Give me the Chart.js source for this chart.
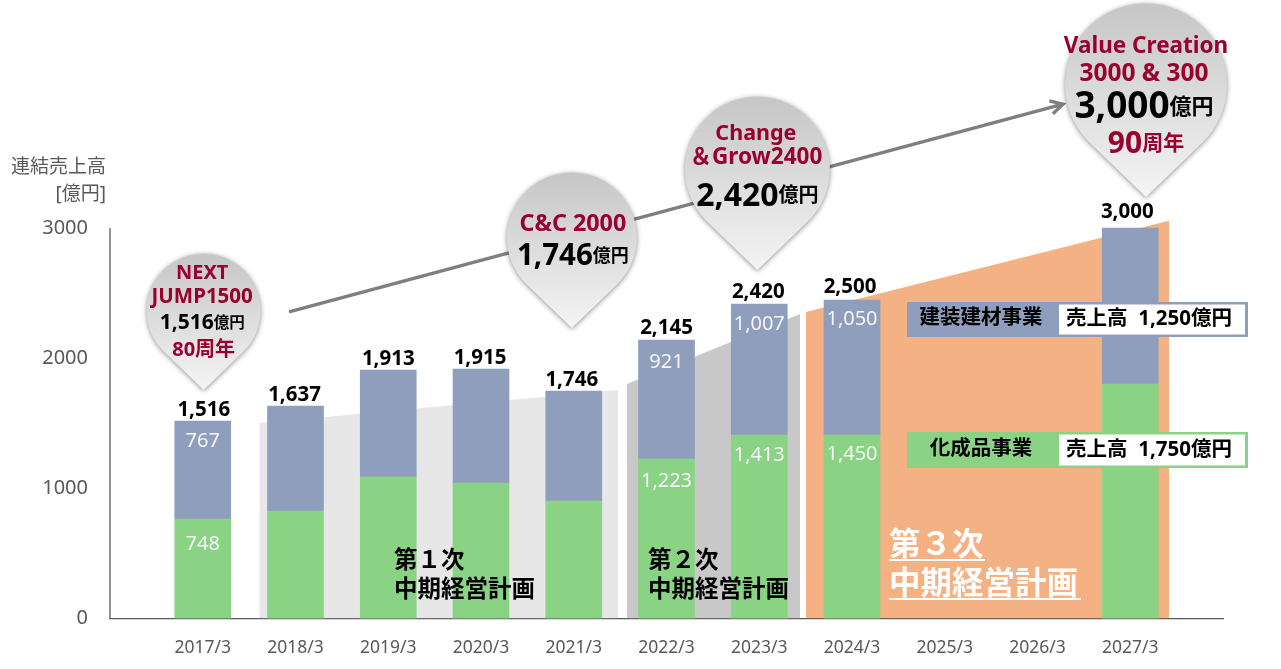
<!DOCTYPE html>
<html>
<head>
<meta charset="utf-8">
<script src="https://cdn.jsdelivr.net/npm/chart.js@4"></script>
<style>
    html, body { margin: 0; background: #ffffff; }
    canvas { display: block; }
</style>
</head>
<body>
<canvas id="salesChart" width="1281" height="669"></canvas>
<script>
// blank slots at both ends: the axis runs one step past the first and last year
const categories = ['', '2017/3', '2018/3', '2019/3', '2020/3', '2021/3', '2022/3', '2023/3', '2024/3', '2025/3', '2026/3', '2027/3', ''];

// bar heights as drawn in the picture
const greenValues = [null, 764, 826, 1087, 1041, 903, 1225, 1410, 1410, null, null, 1801, null];
const blueValues = [null, 753, 806, 822, 876, 845, 915, 1006, 1037, null, null, 1199, null];

const totalLabels = ['', '1,516', '1,637', '1,913', '1,915', '1,746', '2,145', '2,420', '2,500', '', '', '3,000', ''];
const blueLabels = ['', '767', '', '', '', '', '921', '1,007', '1,050', '', '', '', ''];
const greenLabels = ['', '748', '', '', '', '', '1,223', '1,413', '1,450', '', '', '', ''];

// plan bands, x in category steps, y in 億円
const plan1X = [1.61, 5.477];
const plan1Y = [1502, 1755];
const plan2X = [5.574, 7.44];
const plan2Y = [1801, 2339];
const plan3X = [7.504, 11.418];
const plan3Y = [2354, 3056];

// growth arrow
const arrowX = [1.93, 10.275];
const arrowY = [2355, 3952];

// pins: tip position in the same units
const pinTipX = [1.01, 4.98, 6.98, 11.17];
const pinTipY = [1755, 2232, 2677, 3238];

const yTicks = [0, 1000, 2000, 3000];

const GREEN = '#8ad385';
const BLUE = '#8f9ebd';
const ORANGE = '#f4b183';
const RED = '#990030';
const FONT = '"Noto Sans", "Noto Sans CJK JP", sans-serif';

// the labels are not placed evenly in the original, so nudge them per bar (px)
const totalLift = [0, 11, 11, 11, 11, 11, 12, 12, 13, 0, 0, 16, 0];
const totalShift = [0, 1, -1, 0, -1, -2, 0, -1, -2, 0, 0, -3, 0];
const blueDrop = [0, 20, 0, 0, 0, 0, 22, 20, 19, 0, 0, 0, 0];
const greenDrop = [0, 25, 0, 0, 0, 0, 22, 20, 19, 0, 0, 0, 0];

function toPoints(xs, ys) {
    return xs.map((x, i) => ({ x: x, y: ys[i] }));
}

function band(xs, ys, color) {
    return {
        type: 'scatter',
        xAxisID: 'xBand',
        yAxisID: 'yBand',
        data: toPoints(xs, ys),
        showLine: true,
        fill: 'origin',
        backgroundColor: color,
        borderWidth: 0,
        pointRadius: 0,
        order: 5
    };
}

function bars(values, color) {
    return {
        type: 'bar',
        xAxisID: 'x',
        yAxisID: 'y',
        data: values,
        backgroundColor: color,
        barThickness: 56,
        grouped: false,
        order: 1
    };
}

function setFont(ctx, size, weight) {
    ctx.font = (weight || 'bold') + ' ' + size + 'px ' + FONT;
}

// one line of mixed sizes, centered on x
function drawRuns(ctx, x, y, runs) {
    let width = 0;
    runs.forEach(run => {
        setFont(ctx, run[1]);
        width += ctx.measureText(run[0]).width;
    });
    let cursor = x - width / 2;
    ctx.textAlign = 'left';
    ctx.textBaseline = 'middle';
    runs.forEach(run => {
        setFont(ctx, run[1]);
        ctx.fillStyle = run[2];
        ctx.fillText(run[0], cursor, y + 1.5);
        cursor += ctx.measureText(run[0]).width;
    });
}

function drawPin(ctx, tipX, tipY, r) {
    const cy = tipY - 1.39 * r;
    const angle = Math.asin(1 / 1.39);
    const gradient = ctx.createLinearGradient(0, cy - r, 0, tipY);
    gradient.addColorStop(0, '#c6c6c6');
    gradient.addColorStop(1, '#f4f4f4');

    ctx.save();
    ctx.shadowColor = 'rgba(0, 0, 0, 0.45)';
    ctx.shadowBlur = 5;
    ctx.shadowOffsetY = 1;
    ctx.fillStyle = gradient;
    ctx.beginPath();
    ctx.moveTo(tipX, tipY);
    ctx.arc(tipX, cy, r, angle, Math.PI - angle, true);
    ctx.closePath();
    ctx.fill();
    ctx.restore();
}

function drawSegment(ctx, top, height, color, name, sales) {
    ctx.fillStyle = color;
    ctx.fillRect(907, top, 341, height);
    ctx.fillStyle = '#ffffff';
    ctx.fillRect(1059, top + 2.5, 186, height - 5);
    drawRuns(ctx, 981, top + height / 2 - 2.5, [[name, 20.5, '#000']]);
    drawRuns(ctx, 1149, top + height / 2 - 1.5, [['売上高  ' + sales, 20.5, '#000'], ['億円', 20.5, '#000']]);
}

const overlay = {
    id: 'overlay',
    afterDraw(chart) {
        const ctx = chart.ctx;
        const x = chart.scales.xBand;
        const y = chart.scales.y;
        const cat = chart.scales.x;

        // y axis stops at the top tick
        ctx.strokeStyle = '#595959';
        ctx.lineWidth = 1.3;
        ctx.beginPath();
        ctx.moveTo(x.left, y.getPixelForValue(3000));
        ctx.lineTo(x.left, y.bottom);
        ctx.stroke();

        // arrow
        const x0 = x.getPixelForValue(arrowX[0]);
        const y0 = y.getPixelForValue(arrowY[0]);
        const x1 = x.getPixelForValue(arrowX[1]);
        const y1 = y.getPixelForValue(arrowY[1]);
        const a = Math.atan2(y1 - y0, x1 - x0);
        ctx.strokeStyle = '#7f7f7f';
        ctx.lineWidth = 3.4;
        ctx.beginPath();
        ctx.moveTo(x0, y0);
        ctx.lineTo(x1, y1);
        ctx.moveTo(x1 - 14 * Math.cos(a - 0.5), y1 - 14 * Math.sin(a - 0.5));
        ctx.lineTo(x1, y1);
        ctx.lineTo(x1 - 14 * Math.cos(a + 0.5), y1 - 14 * Math.sin(a + 0.5));
        ctx.stroke();

        // bar labels
        ctx.textAlign = 'center';
        ctx.textBaseline = 'middle';
        const greenMeta = chart.getDatasetMeta(3);
        const blueMeta = chart.getDatasetMeta(4);
        categories.forEach((c, i) => {
            const px = cat.getPixelForValue(i);
            if (totalLabels[i]) {
                setFont(ctx, 20.5);
                ctx.fillStyle = '#000000';
                ctx.fillText(totalLabels[i], px + totalShift[i], blueMeta.data[i].y - totalLift[i]);
            }
            setFont(ctx, 20, 'normal');
            ctx.fillStyle = '#f5f5f5';
            if (blueLabels[i]) {
                ctx.fillText(blueLabels[i], px, blueMeta.data[i].y + blueDrop[i]);
            }
            if (greenLabels[i]) {
                ctx.fillText(greenLabels[i], px, greenMeta.data[i].y + greenDrop[i]);
            }
        });

        // pins
        const pinSizes = [57, 65, 72.5, 81];
        pinTipX.forEach((tx, i) => {
            drawPin(ctx, x.getPixelForValue(tx), y.getPixelForValue(pinTipY[i]), pinSizes[i]);
        });
        const p = pinTipX.map(tx => x.getPixelForValue(tx));
        drawRuns(ctx, p[0] - 1.5, 272, [['NEXT', 20, RED]]);
        drawRuns(ctx, p[0] - 1.5, 296, [['JUMP1500', 20.5, RED]]);
        drawRuns(ctx, p[0] - 1.5, 322, [['1,516', 21, '#000'], ['億円', 15.5, '#000']]);
        drawRuns(ctx, p[0], 349, [['80周年', 20, RED]]);
        drawRuns(ctx, p[1] + 1, 223, [['C&C 2000', 23.3, RED]]);
        drawRuns(ctx, p[1] + 1, 255, [['1,746', 29.5, '#000'], ['億円', 18, '#000']]);
        drawRuns(ctx, p[2] - 1.5, 132, [['Change', 21.5, RED]]);
        drawRuns(ctx, p[2] - 1.5, 156, [['＆Grow2400', 22.5, RED]]);
        drawRuns(ctx, p[2], 195, [['2,420', 32, '#000'], ['億円', 20, '#000']]);
        drawRuns(ctx, p[3], 45, [['Value Creation', 22.5, RED]]);
        drawRuns(ctx, p[3] - 2, 73, [['3000 & 300', 24.5, RED]]);
        drawRuns(ctx, p[3] - 2, 106, [['3,000', 37, '#000'], ['億円', 22, '#000']]);
        drawRuns(ctx, p[3], 143, [['90', 30, RED], ['周年', 21, RED]]);

        // axis title
        setFont(ctx, 19, 'normal');
        ctx.fillStyle = '#595959';
        ctx.textAlign = 'right';
        ctx.fillText('連結売上高', 106, 168);
        ctx.fillText('[億円]', 106, 195);

        // plan names
        ctx.textAlign = 'left';
        ctx.fillStyle = '#000000';
        setFont(ctx, 23.5);
        ctx.fillText('第１次', 394, 561);
        ctx.fillText('中期経営計画', 394, 590);
        ctx.fillText('第２次', 648, 561);
        ctx.fillText('中期経営計画', 648, 590);
        ctx.fillStyle = '#ffffff';
        setFont(ctx, 31.5);
        ctx.fillText('第３次', 889, 546);
        ctx.fillText('中期経営計画', 889, 585);
        ctx.fillRect(889, 559, 96, 2);
        ctx.fillRect(889, 598, 192, 2);

        // segment boxes
        drawSegment(ctx, 302, 35, BLUE, '建装建材事業', '1,250');
        drawSegment(ctx, 432, 36, GREEN, '化成品事業', '1,750');
    }
};

new Chart(document.getElementById('salesChart'), {
    type: 'bar',
    data: {
        labels: categories,
        datasets: [
            band(plan1X, plan1Y, '#e7e7e7'),
            band(plan2X, plan2Y, '#c8c8c8'),
            band(plan3X, plan3Y, ORANGE),
            bars(greenValues, GREEN),
            bars(blueValues, BLUE)
        ]
    },
    options: {
        responsive: false,
        animation: false,
        devicePixelRatio: 1,
        layout: {
            padding: { top: 202, right: 58, left: 0, bottom: 0 }
        },
        scales: {
            x: {
                type: 'category',
                stacked: true,
                offset: false,
                grid: { display: false },
                border: { display: true, color: '#595959', width: 1.3 },
                ticks: {
                    autoSkip: false,
                    maxRotation: 0,
                    color: '#595959',
                    padding: 11,
                    font: { family: FONT, size: 17.5 }
                },
                afterFit: function (scale) { scale.height = 50.5; }
            },
            xBand: {
                type: 'linear',
                axis: 'x',
                display: false,
                offset: false,
                min: 0,
                max: 12
            },
            y: {
                stacked: true,
                min: 0,
                max: 3200,
                grid: { display: false },
                border: { display: false },
                afterBuildTicks: function (scale) {
                    scale.ticks = yTicks.map(v => ({ value: v }));
                },
                ticks: {
                    color: '#595959',
                    padding: 14,
                    font: { family: FONT, size: 20 },
                    callback: function (value) { return String(value); }
                },
                afterFit: function (scale) { scale.width = 110; }
            },
            yBand: {
                type: 'linear',
                axis: 'y',
                display: false,
                min: 0,
                max: 3200
            }
        },
        plugins: {
            legend: { display: false },
            tooltip: { enabled: false }
        }
    },
    plugins: [overlay]
});
</script>
</body>
</html>
